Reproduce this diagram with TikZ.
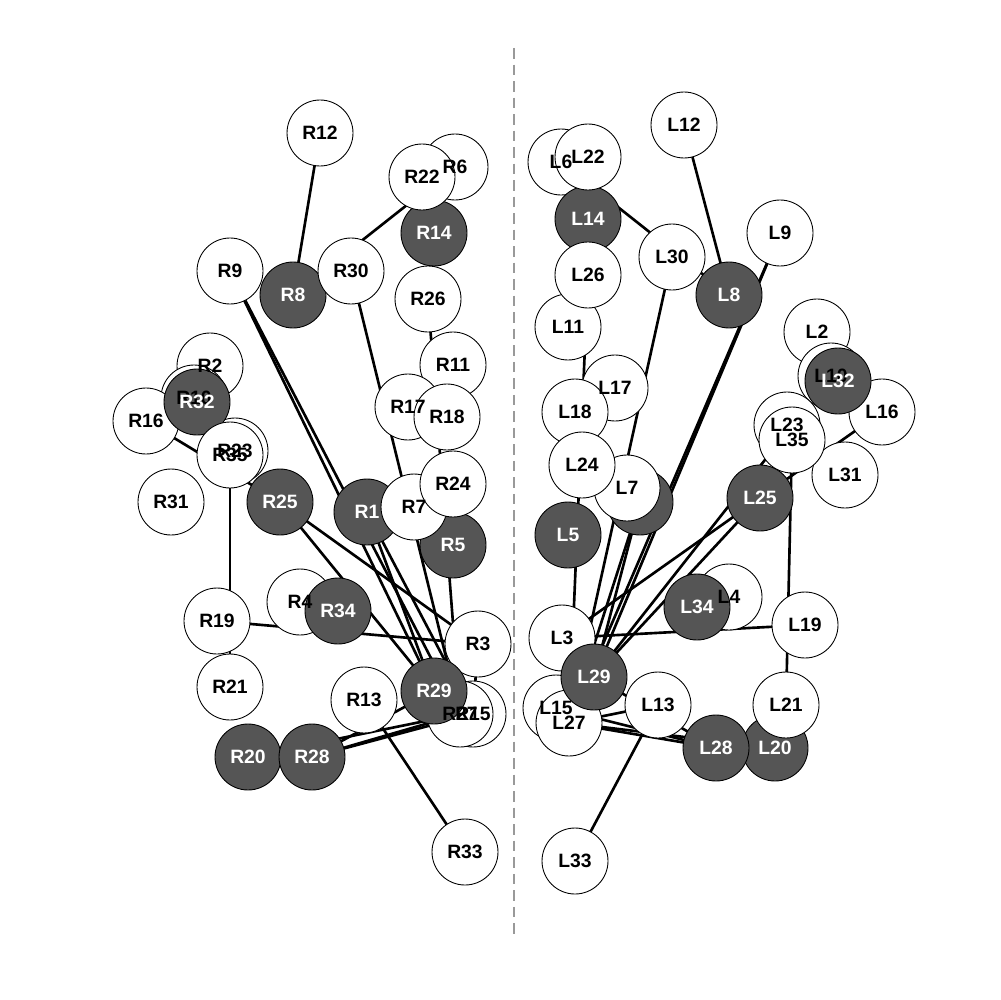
\documentclass[tikz,border=0pt]{standalone}
\usepackage{fontspec}
\newfontfamily\arialf{Liberation Sans}
\pgfdeclarelayer{background}
\pgfsetlayers{background,main}
\definecolor{dkgray}{HTML}{555555}
\definecolor{dashgray}{HTML}{999999}
\begin{document}
\begin{tikzpicture}[x=0.02cm,y=-0.02cm,
  nd/.style={circle,draw=black,line width=0.5pt,fill=white,minimum size=1.32cm,inner sep=0pt},
  dk/.style={nd,fill=dkgray},
  lb/.style={font=\arialf\bfseries\fontsize{11}{13}\selectfont,text=black,inner sep=0pt},
  lbw/.style={lb,text=white},
  edge/.style={line width=1.5pt,black},
  sep/.style={dashgray,line width=1.2pt,dash pattern=on 6pt off 3.4pt}]
\useasboundingbox (0,0) rectangle (1000,1000);
\coordinate (dtop) at (514,48);
\coordinate (dbot) at (514,935);
% right hemisphere nodes (drawing order)
\node[dk] (R1) at (367,512) {};
\node[nd] (R2) at (210,366) {};
\node[nd] (R3) at (478,644) {};
\node[nd] (R4) at (300,602) {};
\node[dk] (R5) at (453,545) {};
\node[nd] (R6) at (455,167) {};
\node[nd] (R7) at (414,507) {};
\node[dk] (R8) at (293,295) {};
\node[nd] (R9) at (230,271) {};
\node[nd] (R10) at (194,398) {};
\node[nd] (R11) at (453,365) {};
\node[nd] (R12) at (320,133) {};
\node[nd] (R13) at (364,700) {};
\node[dk] (R14) at (434,233) {};
\node[nd] (R15) at (473,714) {};
\node[nd] (R16) at (146,421) {};
\node[nd] (R17) at (408,407) {};
\node[nd] (R18) at (447,417) {};
\node[nd] (R19) at (217,621) {};
\node[dk] (R20) at (248,757) {};
\node[nd] (R21) at (230,687) {};
\node[nd] (R22) at (422,177) {};
\node[nd] (R23) at (235,451) {};
\node[nd] (R24) at (453,484) {};
\node[dk] (R25) at (280,502) {};
\node[nd] (R26) at (428,299) {};
\node[nd] (R27) at (460,714) {};
\node[dk] (R28) at (312,757) {};
\node[dk] (R29) at (434,691) {};
\node[nd] (R30) at (351,271) {};
\node[nd] (R31) at (171,502) {};
\node[dk] (R32) at (197,402) {};
\node[nd] (R33) at (465,852) {};
\node[dk] (R34) at (338,611) {};
\node[nd] (R35) at (230,455) {};
% left hemisphere nodes
\node[dk] (L1) at (640,502) {};
\node[nd] (L2) at (817,332) {};
\node[nd] (L3) at (562,638) {};
\node[nd] (L4) at (729,597) {};
\node[dk] (L5) at (568,535) {};
\node[nd] (L6) at (561,162) {};
\node[nd] (L7) at (627,488) {};
\node[dk] (L8) at (729,295) {};
\node[nd] (L9) at (780,233) {};
\node[nd] (L10) at (831,376) {};
\node[nd] (L11) at (568,327) {};
\node[nd] (L12) at (684,125) {};
\node[nd] (L13) at (658,705) {};
\node[dk] (L14) at (588,219) {};
\node[nd] (L15) at (556,708) {};
\node[nd] (L16) at (882,412) {};
\node[nd] (L17) at (615,388) {};
\node[nd] (L18) at (575,412) {};
\node[nd] (L19) at (805,625) {};
\node[dk] (L20) at (775,748) {};
\node[nd] (L21) at (786,705) {};
\node[nd] (L22) at (588,157) {};
\node[nd] (L23) at (787,425) {};
\node[nd] (L24) at (582,465) {};
\node[dk] (L25) at (760,498) {};
\node[nd] (L26) at (588,275) {};
\node[nd] (L27) at (569,723) {};
\node[dk] (L28) at (716,748) {};
\node[dk] (L29) at (594,677) {};
\node[nd] (L30) at (672,257) {};
\node[nd] (L31) at (845,475) {};
\node[dk] (L32) at (838,381) {};
\node[nd] (L33) at (575,861) {};
\node[dk] (L34) at (697,607) {};
\node[nd] (L35) at (792,440) {};
% connectors behind the circles
\begin{pgfonlayer}{background}
\fill[white] (0,0) rectangle (1000,1000);
\draw[sep] (dtop) -- (dbot);
\draw[edge] (R12.center) -- (R8.center);
\draw[edge] (R6.center) -- (R8.center);
\draw[edge] (R9.center) -- (R29.center);
\draw[edge] (R9.center) -- (R27.center);
\draw[edge] (R30.center) -- (R27.center);
\draw[edge] (R26.center) -- (R27.center);
\draw[edge] (R16.center) -- (R25.center);
\draw[edge] (R35.center) -- (R21.center);
\draw[edge] (R19.center) -- (R3.center);
\draw[edge] (R25.center) -- (R3.center);
\draw[edge] (R25.center) -- (R29.center);
\draw[edge] (R1.center) -- (R29.center);
\draw[edge] (R1.center) -- (R15.center);
\draw[edge] (R13.center) -- (R33.center);
\draw[edge] (R28.center) -- (R29.center);
\draw[edge] (R28.center) -- (R27.center);
\draw[edge] (R28.center) -- (R15.center);
\draw[edge] (R20.center) -- (R27.center);
\draw[edge] (R3.center) -- (R15.center);
\draw[edge] (L12.center) -- (L8.center);
\draw[edge] (L6.center) -- (L8.center);
\draw[edge] (L9.center) -- (L29.center);
\draw[edge] (L9.center) -- (L27.center);
\draw[edge] (L30.center) -- (L27.center);
\draw[edge] (L26.center) -- (L27.center);
\draw[edge] (L16.center) -- (L25.center);
\draw[edge] (L10.center) -- (L29.center);
\draw[edge] (L35.center) -- (L21.center);
\draw[edge] (L19.center) -- (L3.center);
\draw[edge] (L25.center) -- (L3.center);
\draw[edge] (L25.center) -- (L29.center);
\draw[edge] (L1.center) -- (L29.center);
\draw[edge] (L1.center) -- (L27.center);
\draw[edge] (L13.center) -- (L33.center);
\draw[edge] (L29.center) -- (L28.center);
\draw[edge] (L27.center) -- (L28.center);
\draw[edge] (L15.center) -- (L28.center);
\draw[edge] (L27.center) -- (L20.center);
\draw[edge] (L27.center) -- (L13.center);
\end{pgfonlayer}
% labels on top of every circle
\node[lbw] at (R1) {R1};
\node[lb] at (R2) {R2};
\node[lb] at (R3) {R3};
\node[lb] at (R4) {R4};
\node[lbw] at (R5) {R5};
\node[lb] at (R6) {R6};
\node[lb] at (R7) {R7};
\node[lbw] at (R8) {R8};
\node[lb] at (R9) {R9};
\node[lb] at (R10) {R10};
\node[lb] at (R11) {R11};
\node[lb] at (R12) {R12};
\node[lb] at (R13) {R13};
\node[lbw] at (R14) {R14};
\node[lb] at (R15) {R15};
\node[lb] at (R16) {R16};
\node[lb] at (R17) {R17};
\node[lb] at (R18) {R18};
\node[lb] at (R19) {R19};
\node[lbw] at (R20) {R20};
\node[lb] at (R21) {R21};
\node[lb] at (R22) {R22};
\node[lb] at (R23) {R23};
\node[lb] at (R24) {R24};
\node[lbw] at (R25) {R25};
\node[lb] at (R26) {R26};
\node[lb] at (R27) {R27};
\node[lbw] at (R28) {R28};
\node[lbw] at (R29) {R29};
\node[lb] at (R30) {R30};
\node[lb] at (R31) {R31};
\node[lbw] at (R32) {R32};
\node[lb] at (R33) {R33};
\node[lbw] at (R34) {R34};
\node[lb] at (R35) {R35};
\node[lbw] at (L1) {L1};
\node[lb] at (L2) {L2};
\node[lb] at (L3) {L3};
\node[lb] at (L4) {L4};
\node[lbw] at (L5) {L5};
\node[lb] at (L6) {L6};
\node[lb] at (L7) {L7};
\node[lbw] at (L8) {L8};
\node[lb] at (L9) {L9};
\node[lb] at (L10) {L10};
\node[lb] at (L11) {L11};
\node[lb] at (L12) {L12};
\node[lb] at (L13) {L13};
\node[lbw] at (L14) {L14};
\node[lb] at (L15) {L15};
\node[lb] at (L16) {L16};
\node[lb] at (L17) {L17};
\node[lb] at (L18) {L18};
\node[lb] at (L19) {L19};
\node[lbw] at (L20) {L20};
\node[lb] at (L21) {L21};
\node[lb] at (L22) {L22};
\node[lb] at (L23) {L23};
\node[lb] at (L24) {L24};
\node[lbw] at (L25) {L25};
\node[lb] at (L26) {L26};
\node[lb] at (L27) {L27};
\node[lbw] at (L28) {L28};
\node[lbw] at (L29) {L29};
\node[lb] at (L30) {L30};
\node[lb] at (L31) {L31};
\node[lbw] at (L32) {L32};
\node[lb] at (L33) {L33};
\node[lbw] at (L34) {L34};
\node[lb] at (L35) {L35};
\end{tikzpicture}
\end{document}
